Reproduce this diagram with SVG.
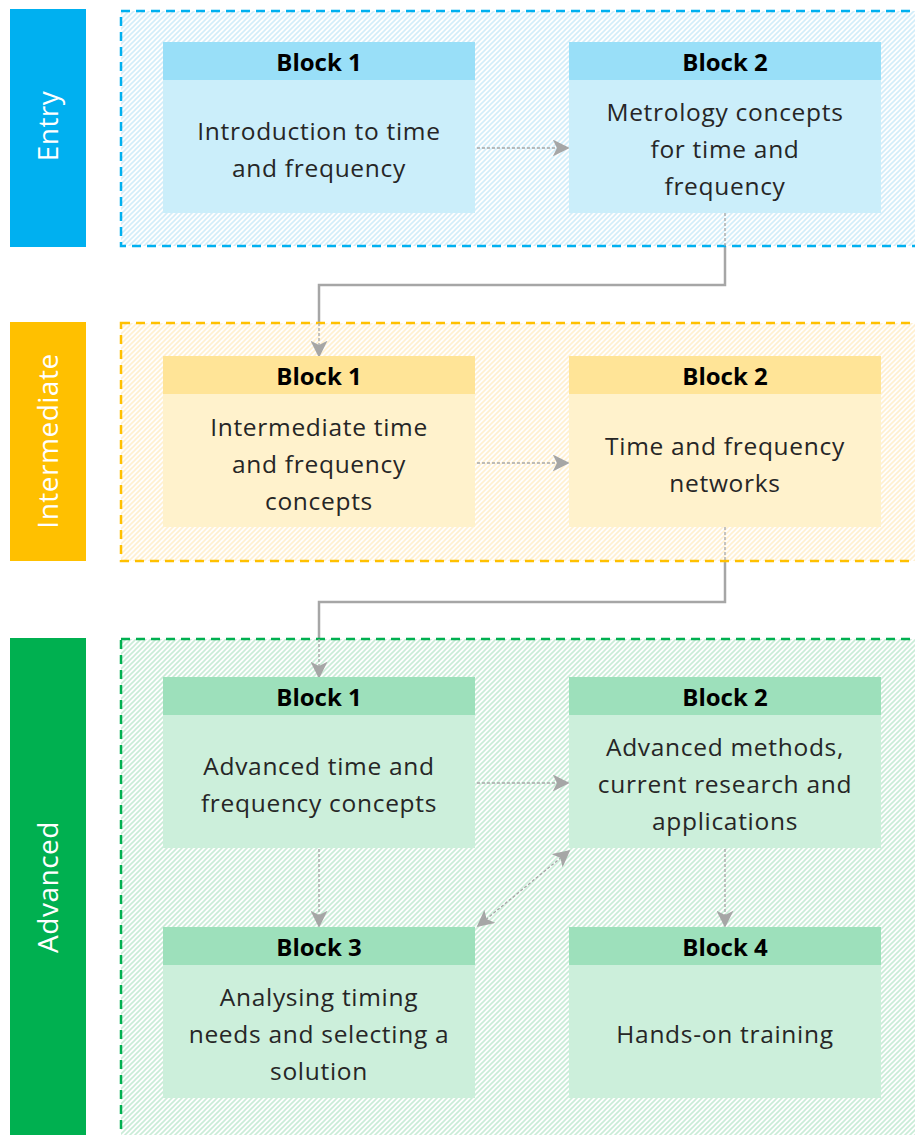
<svg xmlns="http://www.w3.org/2000/svg" width="915" height="1135" viewBox="0 0 915 1135">
<style>
.band-text{font-family:"Open Sans","Noto Sans",sans-serif;font-size:28px;letter-spacing:0.5px;fill:#ffffff;text-anchor:middle}
.hdr{font-family:"Open Sans","Noto Sans",sans-serif;font-size:24px;font-weight:bold;fill:#000000;text-anchor:middle}
.body{font-family:"Open Sans","Noto Sans",sans-serif;font-size:24.5px;letter-spacing:0.7px;fill:#262626;text-anchor:middle}
.lvl{stroke-width:2.5;stroke-dasharray:9 6}
.dash{fill:none;stroke:#a6a6a6;stroke-width:1.3;stroke-dasharray:3 2}
.solid{fill:none;stroke:#a6a6a6;stroke-width:2.5}
</style>
<defs>
<pattern id="hb" patternUnits="userSpaceOnUse" width="5" height="5">
<rect width="5" height="5" fill="#ffffff"/>
<path d="M0,5 L5,0 M-1,1 L1,-1 M4,6 L6,4" stroke="#d2edf9" stroke-width="1.6"/>
</pattern>
<pattern id="hy" patternUnits="userSpaceOnUse" width="5" height="5">
<rect width="5" height="5" fill="#ffffff"/>
<path d="M0,5 L5,0 M-1,1 L1,-1 M4,6 L6,4" stroke="#fff0d0" stroke-width="1.6"/>
</pattern>
<pattern id="hg" patternUnits="userSpaceOnUse" width="5" height="5">
<rect width="5" height="5" fill="#ffffff"/>
<path d="M0,5 L5,0 M-1,1 L1,-1 M4,6 L6,4" stroke="#c9ecd7" stroke-width="1.6"/>
</pattern>
<marker id="ahl" viewBox="0 0 10 10" refX="9" refY="5" markerWidth="17" markerHeight="17" markerUnits="userSpaceOnUse" orient="auto-start-reverse">
<path d="M0,0 L10,5 L0,10 L2.5,5 Z" fill="#a6a6a6"/>
</marker>
</defs>

<g id="connectors-outer">
<path class="solid" d="M725,246 V285 H319 V323"/>
<path class="solid" d="M725,561 V602 H319 V638"/>
</g>

<g id="level-entry">
<rect x="10" y="9" width="76" height="238" fill="#00b0f0"/>
<text class="band-text" transform="translate(58,126) rotate(-90)">Entry</text>
<rect x="121" y="11" width="800" height="235" fill="url(#hb)" stroke="#00b0f0" class="lvl"/>
</g>
<g id="level-intermediate">
<rect x="10" y="322" width="76" height="239" fill="#ffc000"/>
<text class="band-text" transform="translate(58,441) rotate(-90)">Intermediate</text>
<rect x="121" y="323" width="800" height="238" fill="url(#hy)" stroke="#ffc000" class="lvl"/>
</g>
<g id="level-advanced">
<rect x="10" y="638" width="76" height="500" fill="#00b050"/>
<text class="band-text" transform="translate(58,887) rotate(-90)">Advanced</text>
<rect x="121" y="639" width="800" height="510" fill="url(#hg)" stroke="#00b050" class="lvl"/>
</g>

<g id="connectors">
<path class="dash" d="M725,213 V246"/>
<path class="dash" d="M725,527 V561"/>
<path class="dash" d="M319,323 V356" marker-end="url(#ahl)"/>
<path class="dash" d="M319,639 V677" marker-end="url(#ahl)"/>
<path class="dash" d="M477,148 H568" marker-end="url(#ahl)"/>
<path class="dash" d="M477,463 H568" marker-end="url(#ahl)"/>
<path class="dash" d="M477,783 H568" marker-end="url(#ahl)"/>
<path class="dash" d="M319,849 V926" marker-end="url(#ahl)"/>
<path class="dash" d="M725,849 V926" marker-end="url(#ahl)"/>
<path class="dash" d="M478,926 L569,851" marker-start="url(#ahl)" marker-end="url(#ahl)"/>
</g>

<g id="entry-block1">
<rect x="163" y="42" width="312" height="38" fill="#99dff8"/>
<rect x="163" y="80" width="312" height="133" fill="#cbeefa"/>
<text class="hdr" x="319" y="71">Block 1</text>
<text class="body" x="319" y="140">Introduction to time</text>
<text class="body" x="319" y="177">and frequency</text>
</g>
<g id="entry-block2">
<rect x="569" y="42" width="312" height="38" fill="#99dff8"/>
<rect x="569" y="80" width="312" height="133" fill="#cbeefa"/>
<text class="hdr" x="725" y="71">Block 2</text>
<text class="body" x="725" y="121">Metrology concepts</text>
<text class="body" x="725" y="158">for time and</text>
<text class="body" x="725" y="195">frequency</text>
</g>

<g id="intermediate-block1">
<rect x="163" y="356" width="312" height="38" fill="#ffe497"/>
<rect x="163" y="394" width="312" height="133" fill="#fff2cc"/>
<text class="hdr" x="319" y="385">Block 1</text>
<text class="body" x="319" y="436">Intermediate time</text>
<text class="body" x="319" y="473">and frequency</text>
<text class="body" x="319" y="510">concepts</text>
</g>
<g id="intermediate-block2">
<rect x="569" y="356" width="312" height="38" fill="#ffe497"/>
<rect x="569" y="394" width="312" height="133" fill="#fff2cc"/>
<text class="hdr" x="725" y="385">Block 2</text>
<text class="body" x="725" y="455">Time and frequency</text>
<text class="body" x="725" y="492">networks</text>
</g>

<g id="advanced-block1">
<rect x="163" y="677" width="312" height="38" fill="#9de0bb"/>
<rect x="163" y="715" width="312" height="133" fill="#ccefdb"/>
<text class="hdr" x="319" y="706">Block 1</text>
<text class="body" x="319" y="775">Advanced time and</text>
<text class="body" x="319" y="812">frequency concepts</text>
</g>
<g id="advanced-block2">
<rect x="569" y="677" width="312" height="38" fill="#9de0bb"/>
<rect x="569" y="715" width="312" height="133" fill="#ccefdb"/>
<text class="hdr" x="725" y="706">Block 2</text>
<text class="body" x="725" y="756">Advanced methods,</text>
<text class="body" x="725" y="793">current research and</text>
<text class="body" x="725" y="830">applications</text>
</g>
<g id="advanced-block3">
<rect x="163" y="927" width="312" height="38" fill="#9de0bb"/>
<rect x="163" y="965" width="312" height="133" fill="#ccefdb"/>
<text class="hdr" x="319" y="956">Block 3</text>
<text class="body" x="319" y="1006">Analysing timing</text>
<text class="body" x="319" y="1043">needs and selecting a</text>
<text class="body" x="319" y="1080">solution</text>
</g>
<g id="advanced-block4">
<rect x="569" y="927" width="312" height="38" fill="#9de0bb"/>
<rect x="569" y="965" width="312" height="133" fill="#ccefdb"/>
<text class="hdr" x="725" y="956">Block 4</text>
<text class="body" x="725" y="1043">Hands-on training</text>
</g>
</svg>
